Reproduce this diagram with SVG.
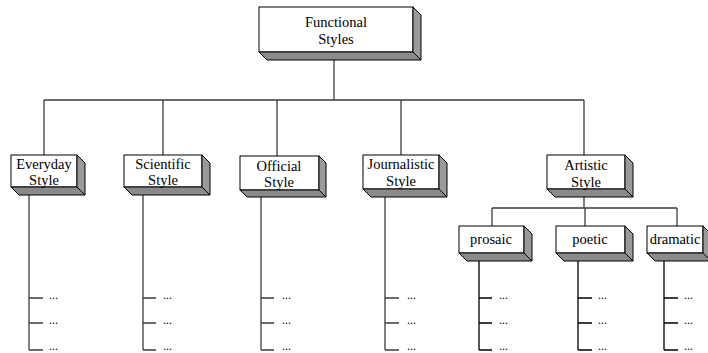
<svg xmlns="http://www.w3.org/2000/svg" width="708" height="353" viewBox="0 0 708 353">
<style>
.front{fill:#fff;stroke:#000;stroke-width:1}
.side{fill:#9a9a9a;stroke:#000;stroke-width:1;stroke-linejoin:round}
.bot{fill:#8a8a8a;stroke:#000;stroke-width:1;stroke-linejoin:round}
.t{font-family:"Liberation Serif","Times New Roman",serif;font-size:14.5px;fill:#000;text-anchor:middle}
.d{font-family:"Liberation Serif","Times New Roman",serif;font-size:12px;fill:#000}
.c{stroke:#3c3c3c;stroke-width:1.3;fill:none}
.k{stroke:#000;stroke-width:1.3;fill:none}
</style>
<rect width="708" height="353" fill="#fff"/>
<g id="connectors">
<path class="c" d="M334 60V100M44 100H584M44 100V155M163 100V155M277 100V156M401 100V155M584 100V155"/>
<path class="c" d="M584 197V208M492 208H677M492 208V226M585 208V226M677 208V226"/>
<path class="c" d="M29 195V350M29 298H43M29 323H43M29 350H43"/>
<path class="c" d="M143 195V350M143 298H156M143 323H156M143 350H156"/>
<path class="c" d="M261 197V350M261 298H274M261 323H274M261 350H274"/>
<path class="c" d="M385 197V350M385 298H399M385 323H399M385 350H399"/>
<path class="k" d="M479 261V350M479 298H492M479 323H492M479 350H492"/>
<path class="k" d="M578 261V350M578 298H592M578 323H592M578 350H592"/>
<path class="k" d="M664 261V350M664 298H678M664 323H678M664 350H678"/>
<text class="d" x="49" y="299">...</text><text class="d" x="49" y="324">...</text><text class="d" x="49" y="350">...</text>
<text class="d" x="163" y="299">...</text><text class="d" x="163" y="324">...</text><text class="d" x="163" y="350">...</text>
<text class="d" x="282" y="299">...</text><text class="d" x="282" y="324">...</text><text class="d" x="282" y="350">...</text>
<text class="d" x="407" y="299">...</text><text class="d" x="407" y="324">...</text><text class="d" x="407" y="350">...</text>
<text class="d" x="499" y="299">...</text><text class="d" x="499" y="324">...</text><text class="d" x="499" y="350">...</text>
<text class="d" x="598" y="299">...</text><text class="d" x="598" y="324">...</text><text class="d" x="598" y="350">...</text>
<text class="d" x="684" y="299">...</text><text class="d" x="684" y="324">...</text><text class="d" x="684" y="350">...</text>
</g>
<g id="functional">
<rect class="front" x="259" y="7" width="154" height="45"/>
<path class="side" d="M413 7L421 15V60L413 52Z"/>
<path class="bot" d="M259 52H413L421 60H267Z"/>
<text class="t" x="336" y="27">Functional</text>
<text class="t" x="336" y="44">Styles</text>
</g>
<g id="everyday">
<rect class="front" x="11" y="155" width="66" height="32"/>
<path class="side" d="M77 155L85 163V195L77 187Z"/>
<path class="bot" d="M11 187H77L85 195H19Z"/>
<text class="t" x="44" y="169">Everyday</text>
<text class="t" x="44" y="185">Style</text>
</g>
<g id="scientific">
<rect class="front" x="124" y="155" width="78" height="32"/>
<path class="side" d="M202 155L210 163V195L202 187Z"/>
<path class="bot" d="M124 187H202L210 195H132Z"/>
<text class="t" x="163" y="169">Scientific</text>
<text class="t" x="163" y="185">Style</text>
</g>
<g id="official">
<rect class="front" x="240" y="156" width="79" height="34"/>
<path class="side" d="M319 156L326 163V197L319 190Z"/>
<path class="bot" d="M240 190H319L326 197H247Z"/>
<text class="t" x="279" y="171">Official</text>
<text class="t" x="279" y="187">Style</text>
</g>
<g id="journalistic">
<rect class="front" x="363" y="155" width="76" height="34"/>
<path class="side" d="M439 155L447 163V197L439 189Z"/>
<path class="bot" d="M363 189H439L447 197H371Z"/>
<text class="t" x="401" y="169">Journalistic</text>
<text class="t" x="401" y="186">Style</text>
</g>
<g id="artistic">
<rect class="front" x="547" y="155" width="78" height="34"/>
<path class="side" d="M625 155L633 163V197L625 189Z"/>
<path class="bot" d="M547 189H625L633 197H555Z"/>
<text class="t" x="586" y="170">Artistic</text>
<text class="t" x="586" y="187">Style</text>
</g>
<g id="prosaic">
<rect class="front" x="459" y="226" width="65" height="27"/>
<path class="side" d="M524 226L532 234V261L524 253Z"/>
<path class="bot" d="M459 253H524L532 261H467Z"/>
<text class="t" x="491" y="244">prosaic</text>
</g>
<g id="poetic">
<rect class="front" x="556" y="226" width="69" height="27"/>
<path class="side" d="M625 226L633 234V261L625 253Z"/>
<path class="bot" d="M556 253H625L633 261H564Z"/>
<text class="t" x="590" y="244">poetic</text>
</g>
<g id="dramatic">
<rect class="front" x="647" y="226" width="56" height="27"/>
<path class="side" d="M703 226L711 234V261L703 253Z"/>
<path class="bot" d="M647 253H703L711 261H655Z"/>
<text class="t" x="675" y="244">dramatic</text>
</g>
</svg>
